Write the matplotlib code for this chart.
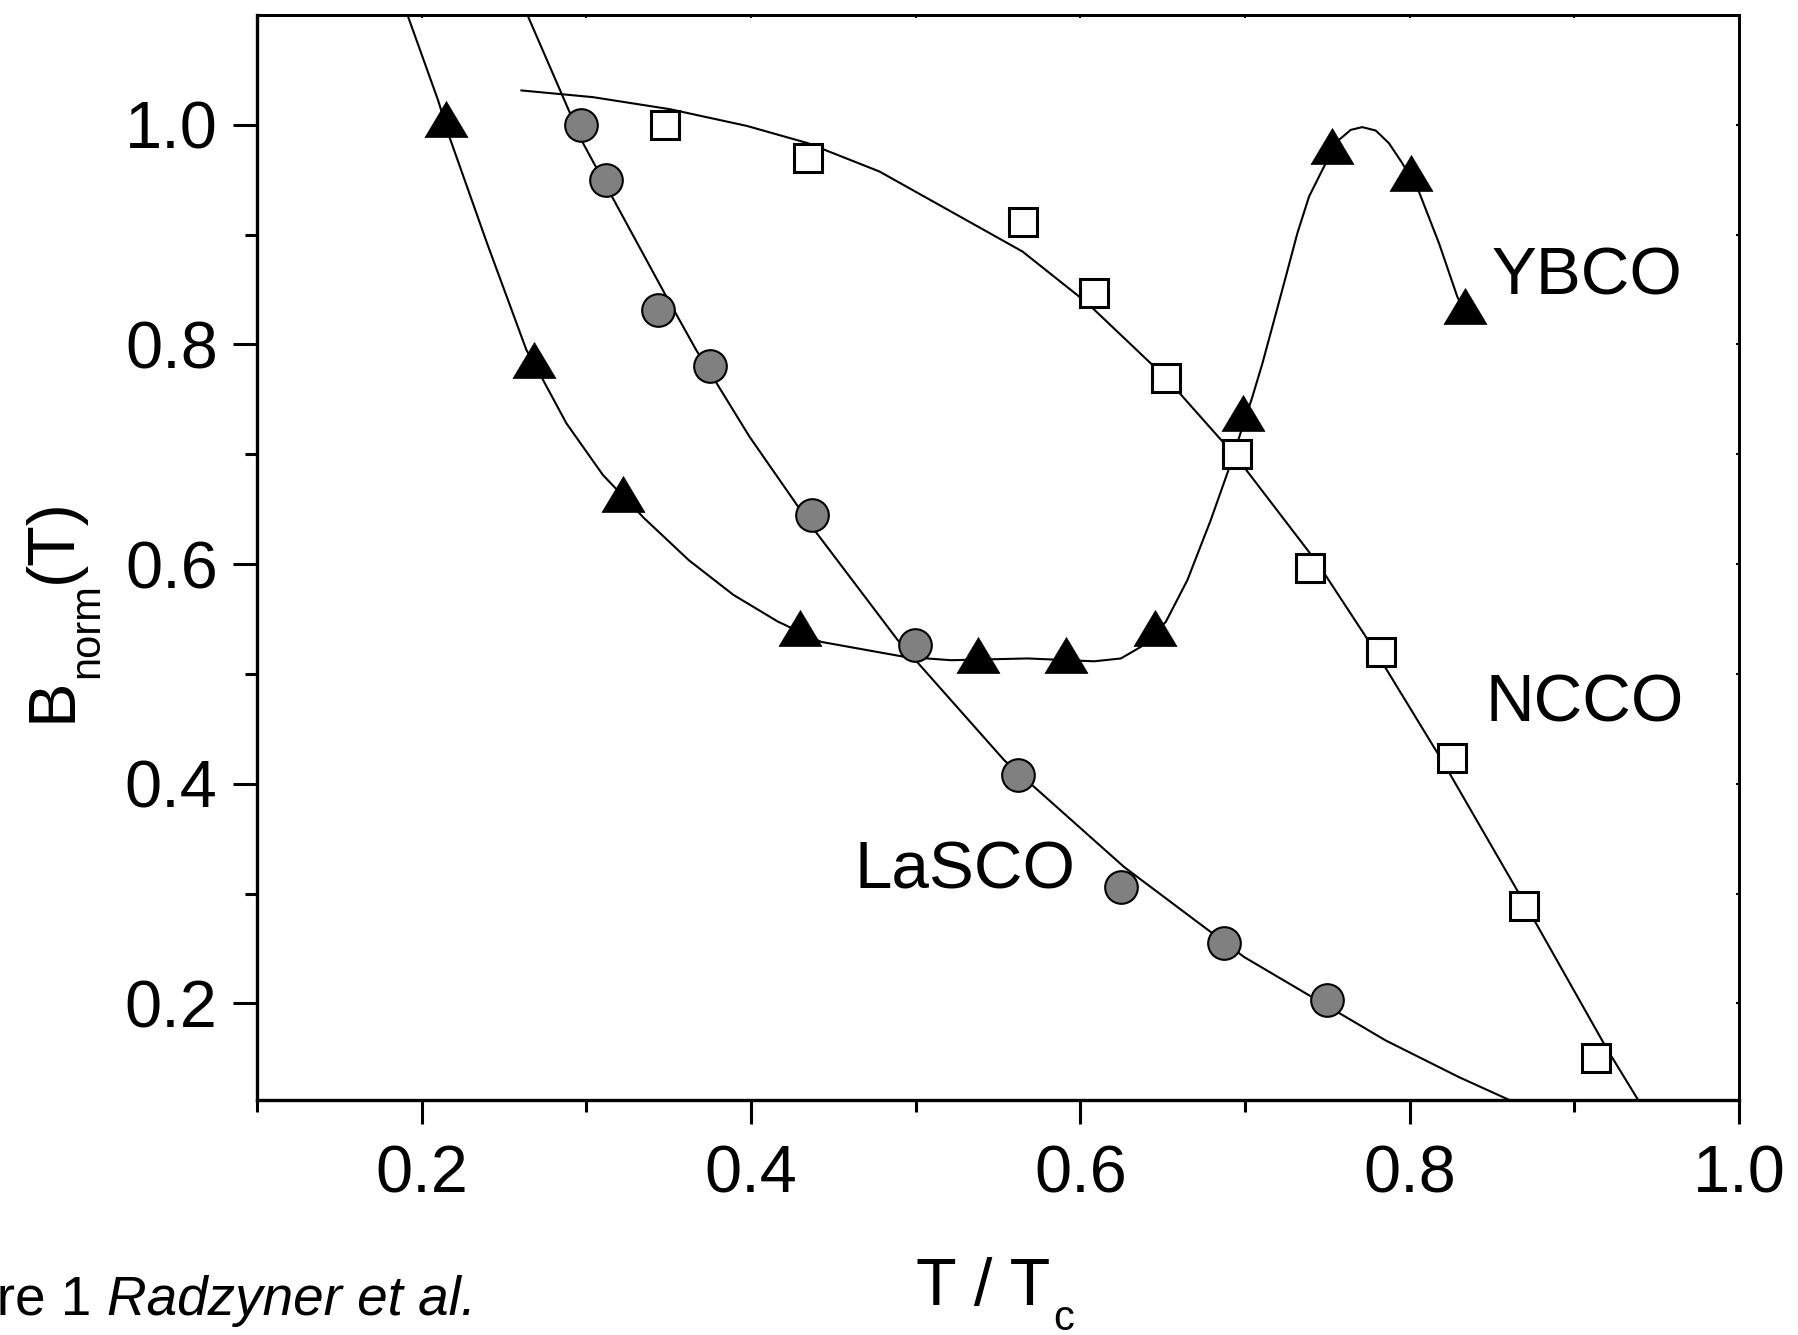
import matplotlib.pyplot as plt
import numpy as np
from matplotlib.path import Path
from matplotlib.transforms import IdentityTransform

plt.rcParams['font.family'] = ['Liberation Sans', 'DejaVu Sans']

# marker data (T/Tc, Bnorm)
ybco_x = [0.215, 0.2682, 0.3222, 0.430, 0.5376, 0.5913, 0.6453, 0.6988, 0.7527, 0.801, 0.8334]
ybco_y = [1.000, 0.7804, 0.6586, 0.5368, 0.5119, 0.5119, 0.5368, 0.7318, 0.9757, 0.951, 0.8296]

lasco_x = [0.2965, 0.3121, 0.3434, 0.3748, 0.4371, 0.4996, 0.5619, 0.6246, 0.6873, 0.7497]
lasco_y = [1.000, 0.9499, 0.8314, 0.7807, 0.6446, 0.5268, 0.4077, 0.306, 0.255, 0.2035]

ncco_x = [0.3475, 0.4345, 0.5652, 0.6084, 0.6519, 0.6952, 0.7393, 0.7824, 0.8259, 0.8694, 0.9129]
ncco_y = [1.000, 0.9697, 0.9116, 0.8466, 0.7698, 0.700, 0.5966, 0.5201, 0.4235, 0.2887, 0.1505]

# fitted curves
ybco_fit_x = [0.1917, 0.2100, 0.2171, 0.2397, 0.2636, 0.2737, 0.2879, 0.3101, 0.3351, 0.3623,
              0.3893, 0.4164, 0.4426, 0.4931, 0.5215, 0.568, 0.6084, 0.6246, 0.6368, 0.6519,
              0.665, 0.6792, 0.6898, 0.7045, 0.7106, 0.7177, 0.7248, 0.7318, 0.7389, 0.748,
              0.7571, 0.7642, 0.7712, 0.7794, 0.7874, 0.7955, 0.8056, 0.8178, 0.8289, 0.8334]
ybco_fit_y = [1.0987, 1.0222, 0.9879, 0.8922, 0.795, 0.7677, 0.7282, 0.6811, 0.6418, 0.6035,
              0.572, 0.5476, 0.5292, 0.5156, 0.5125, 0.5141, 0.5115, 0.5141, 0.5247, 0.5474,
              0.5854, 0.6401, 0.685, 0.7524, 0.7829, 0.8223, 0.8618, 0.9013, 0.9347, 0.962,
              0.9863, 0.9954, 0.9979, 0.9948, 0.9833, 0.9651, 0.9392, 0.8922, 0.8436, 0.8296]

lasco_fit_x = [0.2646, 0.2848, 0.298, 0.3161, 0.3475, 0.3667, 0.3991, 0.4385, 0.4891, 0.5538,
               0.6266, 0.6792, 0.6995, 0.7854, 0.8299, 0.8603]
lasco_fit_y = [1.0987, 1.0289, 0.9833, 0.9332, 0.8466, 0.795, 0.716, 0.631, 0.5308, 0.4214,
               0.3242, 0.265, 0.2422, 0.1663, 0.1329, 0.1122]

ncco_fit_x = [0.2606, 0.304, 0.3505, 0.3975, 0.4345, 0.478, 0.5649, 0.604, 0.6519, 0.695,
              0.7442, 0.7794, 0.8202, 0.8708, 0.920, 0.9387]
ncco_fit_y = [1.0313, 1.0252, 1.0143, 0.999, 0.9833, 0.9575, 0.8846, 0.838, 0.7698, 0.697,
              0.6006, 0.5201, 0.4199, 0.2887, 0.158, 0.1122]

W, H = 1798, 1335
fig = plt.figure(figsize=(W / 100, H / 100), dpi=100)
ax = fig.add_axes([257 / W, 1 - 1099.5 / H, (1739 - 257) / W, (1099.5 - 15) / H])

# curves under the markers
lw = 1.5
ax.plot(ybco_fit_x, ybco_fit_y, color='k', lw=lw, zorder=2, solid_joinstyle='round')
ax.plot(lasco_fit_x, lasco_fit_y, color='k', lw=lw, zorder=2, solid_joinstyle='round')
ax.plot(ncco_fit_x, ncco_fit_y, color='k', lw=lw, zorder=2, solid_joinstyle='miter')

# triangle with centroid at the data point (like Origin)
tri = Path([(0, 24), (-21.5, -12), (21.5, -12), (0, 24)],
           [Path.MOVETO, Path.LINETO, Path.LINETO, Path.CLOSEPOLY])

ax.plot(ncco_x, ncco_y, ls='none', marker='s', ms=20, mfc='white', mec='k', mew=2.2, zorder=3)
ax.plot(lasco_x, lasco_y, ls='none', marker='o', ms=23.5, mfc='#808080', mec='k', mew=1.5, zorder=4)
ax.plot(ybco_x, ybco_y, ls='none', marker=tri, ms=34.5, mfc='k', mec='k', mew=0.5, zorder=5)

ax.set_xlim(0.1, 1.0)
ax.set_ylim(0.1125, 1.1)
ax.set_xticks([0.2, 0.4, 0.6, 0.8, 1.0])
ax.set_xticks([0.1, 0.3, 0.5, 0.7, 0.9], minor=True)
ax.set_yticks([0.2, 0.4, 0.6, 0.8, 1.0])
ax.set_yticks([0.3, 0.5, 0.7, 0.9], minor=True)
ax.set_xticklabels(['0.2', '0.4', '0.6', '0.8', '1.0'])
ax.set_yticklabels(['0.2', '0.4', '0.6', '0.8', '1.0'])

ax.tick_params(which='major', direction='out', length=17.3, width=2.2, labelsize=48)
ax.tick_params(which='minor', direction='out', length=8.9, width=2.2)
ax.tick_params(axis='x', which='major', pad=15)
ax.tick_params(axis='y', which='major', pad=11)
for s in ['left', 'bottom']:
    ax.spines[s].set_linewidth(2.4)
for s in ['top', 'right']:
    ax.spines[s].set_linewidth(2.0)

# tiny ticks on top and right edges
secx = ax.secondary_xaxis('top')
secx.set_xticks(np.arange(0.2, 1.0, 0.1))
secx.tick_params(direction='in', length=2.5, width=1.5, labeltop=False)
secx.spines['top'].set_linewidth(2.0)
secy = ax.secondary_yaxis('right')
secy.set_yticks(np.arange(0.2, 1.1, 0.1))
secy.tick_params(direction='in', length=2.5, width=1.5, labelright=False)
secy.spines['right'].set_linewidth(2.0)

# curve labels
ax.text(0.8495, 0.8451, 'YBCO', fontsize=48.5, ha='left', va='baseline')
ax.text(0.8459, 0.4563, 'NCCO', fontsize=48.5, ha='left', va='baseline')
ax.text(0.4628, 0.3045, 'LaSCO', fontsize=48.5, ha='left', va='baseline')

# axis labels built from pieces (pixel coords, origin top-left)
pix = IdentityTransform()
def put(x, y, s, size, rot=0, style='normal', ha='left'):
    fig.text(x, H - y, s, fontsize=size, rotation=rot, rotation_mode='anchor',
             ha=ha, va='baseline', transform=pix, style=style)

put(916, 1305, 'T / T', 48)
put(1053, 1330, 'c', 30)

put(71, 722, 'B', 48, rot=90)
put(98, 677.5, 'norm', 30, rot=90)
put(71, 582.6, '(T)', 48, rot=90)

put(107, 1315, 'Radzyner et al.', 39.5, style='italic')
put(107, 1315, 'Figure 1 ', 39.5, ha='right')

fig.savefig('out.png', dpi=100)
